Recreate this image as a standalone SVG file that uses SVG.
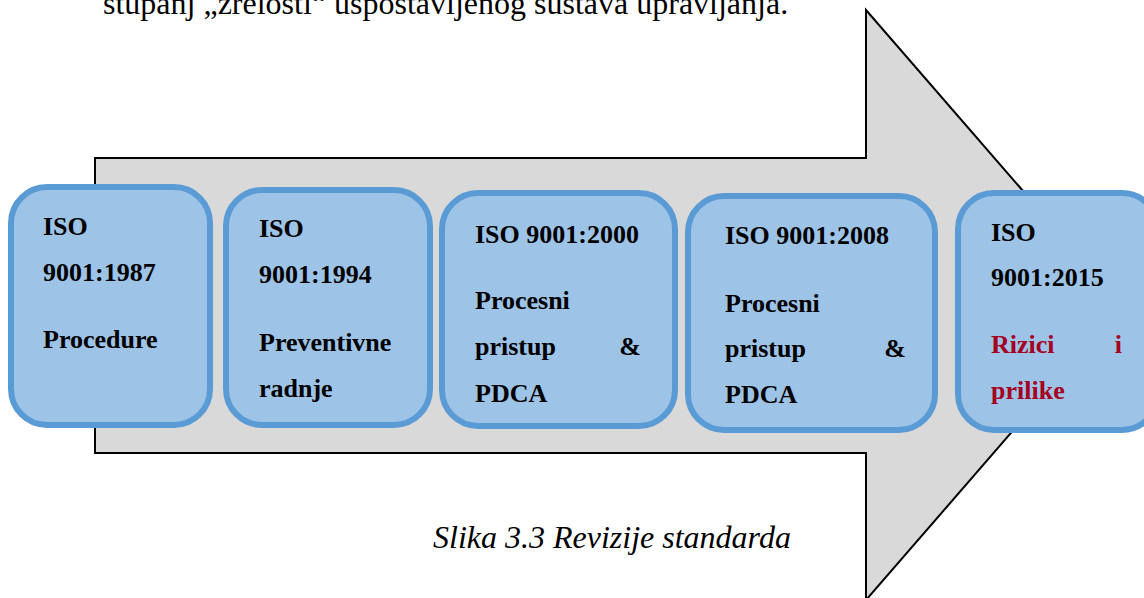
<svg xmlns="http://www.w3.org/2000/svg" width="1144" height="598" viewBox="0 0 1144 598">
<style>
.box{fill:#9dc3e6;stroke:#5b9bd5;stroke-width:6}
</style>
<rect width="1144" height="598" fill="#fff"/>
<text x="103" y="14" font-family="Liberation Serif" font-size="32" fill="#000">stupanj „zrelosti“ uspostavljenog sustava upravljanja.</text>
<g id="arrow">
<path d="M95,158 L866,158 L866,10 L1122,305 L866,600 L866,453 L95,453 Z" fill="#d9d9d9" stroke="#000" stroke-width="2"/>
</g>
<g id="nodes" font-family="Liberation Serif" font-size="26" font-weight="bold" fill="#000">
<g id="n1">
<rect class="box" x="11" y="187" width="199" height="238" rx="36"/>
<text x="43" y="235">ISO</text>
<text x="43" y="281">9001:1987</text>
<text x="43" y="348">Procedure</text>
</g>
<g id="n2">
<rect class="box" x="226" y="190" width="204" height="235" rx="36"/>
<text x="259" y="237">ISO</text>
<text x="259" y="283">9001:1994</text>
<text x="259" y="351">Preventivne</text>
<text x="259" y="397">radnje</text>
</g>
<g id="n3">
<rect class="box" x="442" y="193" width="233" height="233" rx="36"/>
<text x="475" y="243">ISO 9001:2000</text>
<text x="475" y="309">Procesni</text>
<text x="475" y="355">pristup</text>
<text x="641" y="355" text-anchor="end">&amp;</text>
<text x="475" y="402">PDCA</text>
</g>
<g id="n4">
<rect class="box" x="688" y="196" width="247" height="234" rx="36"/>
<text x="725" y="244">ISO 9001:2008</text>
<text x="725" y="312">Procesni</text>
<text x="725" y="357">pristup</text>
<text x="906" y="357" text-anchor="end">&amp;</text>
<text x="725" y="403">PDCA</text>
</g>
<g id="n5">
<rect class="box" x="958" y="193" width="200" height="237" rx="36"/>
<text x="991" y="241">ISO</text>
<text x="991" y="286">9001:2015</text>
<text x="991" y="353" fill="#a50021">Rizici</text>
<text x="1122" y="353" text-anchor="end" fill="#a50021">i</text>
<text x="991" y="399" fill="#a50021">prilike</text>
</g>
</g>
<g id="connectors"></g>
<text x="433" y="548" font-family="Liberation Serif" font-size="32" font-style="italic" fill="#000">Slika 3.3 Revizije standarda</text>
</svg>
